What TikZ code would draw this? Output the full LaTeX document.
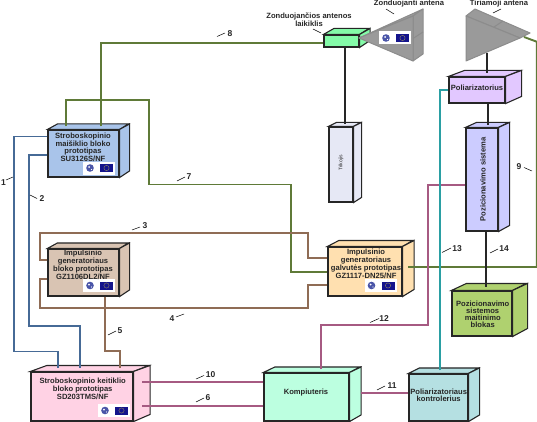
\documentclass[tikz,border=0pt]{standalone}
\usepackage{fontspec}
\setmainfont{Liberation Sans}
\usetikzlibrary{calc}

\definecolor{mixblue}{HTML}{A9C4EA}
\definecolor{genbrown}{HTML}{D9C4B3}
\definecolor{convpink}{HTML}{FFD2E4}
\definecolor{headorange}{HTML}{FFE0B0}
\definecolor{pswgreen}{HTML}{AFD16F}
\definecolor{pcgreen}{HTML}{BCFFE0}
\definecolor{ctrlteal}{HTML}{B5E0E2}
\definecolor{posviolet}{HTML}{CCCCFF}
\definecolor{polviolet}{HTML}{E2C8FF}
\definecolor{tripodgrey}{HTML}{E6E8F5}
\definecolor{holdgreen}{HTML}{84FAA8}
\definecolor{antgrey}{HTML}{9A9A9A}
\definecolor{wblue}{HTML}{466A96}
\definecolor{wgreen}{HTML}{5F7A38}
\definecolor{wbrown}{HTML}{8F6C55}
\definecolor{wpink}{HTML}{A65A82}
\definecolor{wteal}{HTML}{2A9FA3}
\definecolor{euflag}{HTML}{14148C}
\definecolor{crest}{HTML}{4A55A8}

\tikzset{
    box/.style={draw=black!85, line width=1.1pt, inner sep=0pt, line join=miter},
    boxtext/.style={font=\fontsize{7.6}{7}\selectfont\bfseries, align=center, inner sep=0pt, text=black!85},
    numtext/.style={font=\fontsize{8.5}{9}\selectfont\bfseries, inner sep=0pt, text=black!85},
    tick/.style={line width=0.5pt, black},
    wire/.style={line width=1.9pt, line join=miter},
    antenna/.style={draw=black!45, line width=1pt, fill=antgrey, line join=round}
}

% box with its top and side faces
\newcommand{\cubebox}[7]{
    \node[box, fill=#2, minimum width=#4, minimum height=#5] (#1) at (#3) {};
    \draw[box, fill=#2] (#1.north west) -- ++(#6,-#7) -- ++(#4,0) -- ($(#1.north east)$) -- cycle;
    \draw[box, fill=#2] (#1.north east) -- ++(#6,-#7) -- ++(0,#5) -- (#1.south east) -- cycle;
    \coordinate (#1-top) at ($(#1.north)+(0,-0.55*#7)$);
}

% white plate with the two small emblems
\newcommand{\emblem}[2]{
    \node[fill=white, minimum width=32, minimum height=13, inner sep=0pt] (#1) at (#2) {};
    \fill[crest] ($(#1.center)+(-9,0)$) circle (3.8);
    \fill[white] ($(#1.center)+(-10,-1)$) circle (1);
    \fill[white] ($(#1.center)+(-7.5,1.5)$) circle (0.7);
    \fill[euflag] ($(#1.center)+(1,-4)$) rectangle ($(#1.center)+(14,4)$);
    \draw[yellow!60!euflag, line width=0.3pt] ($(#1.center)+(7.5,0)$) circle (2.6);
}

\begin{document}
\begin{tikzpicture}[x=1pt, y=-1pt]
    \useasboundingbox (0,0) rectangle (537,422);

    % Boxes
    \cubebox{maisiklis}{mixblue}{83.5,153.5}{71}{47}{10}{5.5}
    \cubebox{generatorius}{genbrown}{83.5,272.5}{71}{47}{10}{5.5}
    \cubebox{keitiklis}{convpink}{82,396.5}{102}{49}{16.5}{6}
    \cubebox{galvute}{headorange}{365,271.5}{74}{49}{11.5}{6}
    \cubebox{maitinimas}{pswgreen}{482,313.5}{60}{45}{15}{7}
    \cubebox{kompiuteris}{pcgreen}{306.5,397}{85}{48}{11.5}{5.5}
    \cubebox{kontroleris}{ctrlteal}{438.5,397.5}{59}{47}{11}{5.5}
    \cubebox{sistema}{posviolet}{482,179.5}{32}{103}{11}{5}
    \cubebox{poliarizatorius}{polviolet}{477,90}{56}{26}{16}{6}
    \cubebox{trikojis}{tripodgrey}{341,164.5}{24}{75}{8}{4}
    \cubebox{laikiklis}{holdgreen}{341.5,41}{35}{12}{10.5}{6}

    % Probing antenna
    \draw[antenna] (359,38) -- (423,9) -- (413,16) -- cycle;
    \draw[antenna] (413,16) -- (423,9) -- (423,54) -- (413,61) -- cycle;
    \draw[antenna] (359,38) -- (413,16) -- (413,61) -- cycle;
    \draw[antenna] (413,38.5) -- (423,32);

    % Antenna under test
    \draw[antenna] (466,16) -- (475,9) -- (530,33) -- (520,38) -- cycle;
    \draw[antenna] (466,16) -- (520,38) -- (466,61) -- cycle;
    \draw[antenna] (494,27) -- (503,21);
    \coordinate (tiriamoji) at (487,53);
    \coordinate (tiriamoji-tip) at (524,37);

    % Emblems
    \emblem{zenklas1}{99,168}
    \emblem{zenklas2}{99,285.5}
    \emblem{zenklas3}{114,410.5}
    \emblem{zenklas4}{380.5,285.5}
    \emblem{zenklas5}{395,38}

    % Blue connectors
    \draw[wire, wblue] (maisiklis.west |- 0,136.5) -- (14.3,136.5) |- (58,351.5) -- (58,0 |- keitiklis-top);
    \draw[wire, wblue] (maisiklis.west |- 0,155) -- (29,155) |- (80,326) -- (80,0 |- keitiklis-top);

    % Green connectors
    \draw[wire, wgreen] (65.7,0 |- maisiklis-top) -- (65.7,100) -- (149,100) -- (149,184.5) -- (291,184.5) |- (galvute.west |- 0,272);
    \draw[wire, wgreen] (100.7,0 |- maisiklis-top) -- (100.7,42.7) -- (laikiklis.west |- 0,42.7);
    \draw[wire, wgreen] (408,0 |- galvute.center) ++(0,-4.5) -- ++(128.7,0) -- (536.7,41.7) -- (tiriamoji-tip);

    % Brown connectors
    \draw[wire, wbrown] (generatorius.west |- 0,259.7) -- (40,259.7) -- (40,232.7) -- (308,232.7) -- (308,258) -- (galvute.west |- 0,258);
    \draw[wire, wbrown] (generatorius.west |- 0,278.7) -- (40,278.7) -- (40,308) -- (307.7,308) -- (307.7,285) -- (galvute.west |- 0,285);
    \draw[wire, wbrown] (105,0 |- generatorius.south) -- (105,351) -- (120,351) -- (120,0 |- keitiklis-top);

    % Pink connectors
    \draw[wire, wpink] (142,382) -- (kompiuteris.west |- 0,382);
    \draw[wire, wpink] (142,405.7) -- (kompiuteris.west |- 0,405.7);
    \draw[wire, wpink] (361,392.7) -- (kontroleris.west |- 0,392.7);
    \draw[wire, wpink] (320.7,0 |- kompiuteris-top) -- (320.7,325) -- (428,325) -- (428,185) -- (sistema.west |- 0,185);

    % Teal connector
    \draw[wire, wteal] (440,0 |- kontroleris-top) -- (440,90) -- (poliarizatorius.west |- 0,90);

    % Black connectors
    \draw[wire, black!85] (laikiklis.south) ++(3.5,0) -- (345,0 |- trikojis-top);
    \draw[wire, black!85] (tiriamoji) -- (487,0 |- poliarizatorius-top);
    \draw[wire, black!85] (487.7,0 |- poliarizatorius.south) -- (487.7,0 |- sistema-top);
    \draw[wire, black!85] (486,0 |- sistema.south) -- (486,0 |- maitinimas-top);

    % Box texts
    \node[boxtext] (maisiklis-txt) at (83,147.5) {Stroboskopinio\\maišiklio bloko\\prototipas\\SU3126S/NF};
    \node[boxtext] (generatorius-txt) at (83,264.5) {Impulsinio\\generatoriaus\\bloko prototipas\\GZ1106DL2/NF};
    \node[boxtext] (keitiklis-txt) at (82.7,389) {Stroboskopinio keitiklio\\bloko prototipas\\SD203TMS/NF};
    \node[boxtext] (galvute-txt) at (366,264) {Impulsinio\\generatoriaus\\galvutės prototipas\\GZ1117-DN25/NF};
    \node[boxtext] (maitinimas-txt) at (482.7,314) {Pozicionavimo\\sistemos\\maitinimo\\blokas};
    \node[boxtext] (kompiuteris-txt) at (306,393) {Kompiuteris};
    \node[boxtext] (kontroleris-txt) at (438.7,395.5) {Poliarizatoriaus\\kontrolerius};
    \node[boxtext] (poliarizatorius-txt) at (477,88) {Poliarizatorius};
    \node[boxtext, rotate=90] (sistema-txt) at (483,179.5) {Pozicionavimo sistema};
    \node[boxtext, rotate=90, font=\fontsize{5}{6}\selectfont] (trikojis-txt) at (341,163) {Trikojis};

    % Antenna labels
    \node[boxtext] (laikiklis-txt) at (309,20) {Zonduojančios antenos\\laikiklis};
    \node[boxtext] (zonduojanti-txt) at (409,3.2) {Zonduojanti antena};
    \node[boxtext] (tiriamoji-txt) at (499,3.2) {Tiriamoji antena};
    \coordinate (z1) at (313,29);
    \coordinate (z2) at (321,33);
    \coordinate (z3) at (386,9);
    \coordinate (z4) at (394,14);
    \coordinate (z5) at (493,13);
    \coordinate (z6) at (501,9);
    \draw[tick] (z1) -- (z2);
    \draw[tick] (z3) -- (z4);
    \draw[tick] (z5) -- (z6);

    % Wire numbers with their ticks
    \foreach \n/\x/\y/\ax/\ay/\bx/\by in {
        1/3.5/183/6/180/13/177,
        2/42/199/30/195/37/198.5,
        3/145/226/132/230/140/227,
        4/172/319/176/317/184/314,
        5/120/331/108/335/116/331,
        6/208/398/196/402/204/398,
        7/189/177/177/181/185/177,
        8/230/33.5/217/36.5/225/33,
        9/519/167/524/167.5/532/171,
        10/210.5/375/196/379/204/375.5,
        11/392/386/377/390/385/386,
        12/384/319/370/322.5/379/318.5,
        13/457/249/442/252.5/451/248,
        14/504/249/490/253/498/249}
    {
        \node[numtext] (num\n) at (\x,\y) {\n};
        \coordinate (t\n a) at (\ax,\ay);
        \coordinate (t\n b) at (\bx,\by);
        \draw[tick] (t\n a) -- (t\n b);
    }
\end{tikzpicture}
\end{document}
